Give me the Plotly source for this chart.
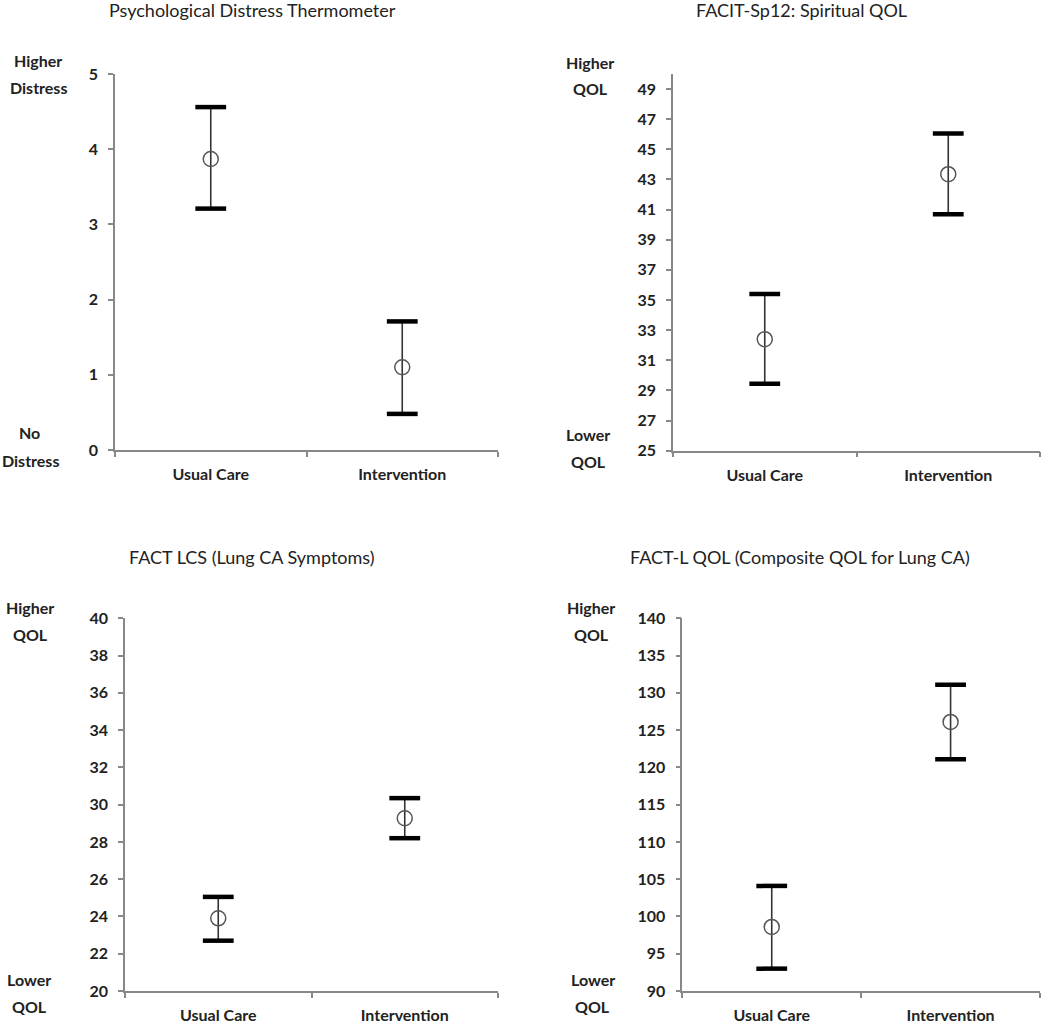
import plotly.graph_objects as go

categories = ["Usual Care", "Intervention"]

distress_mean = [3.87, 1.10]
distress_upper = [4.56, 1.71]
distress_lower = [3.21, 0.48]

spiritual_mean = [32.4, 43.35]
spiritual_upper = [35.4, 46.05]
spiritual_lower = [29.45, 40.7]

lcs_mean = [23.9, 29.27]
lcs_upper = [25.05, 30.35]
lcs_lower = [22.7, 28.2]

factl_mean = [98.6, 126.1]
factl_upper = [104.1, 131.1]
factl_lower = [93.0, 121.1]

titles = ["Psychological Distress Thermometer", "FACIT-Sp12: Spiritual QOL",
          "FACT LCS (Lung CA Symptoms)", "FACT-L QOL (Composite QOL for Lung CA)"]
top_labels = [("Higher", "Distress"), ("Higher", "QOL"), ("Higher", "QOL"), ("Higher", "QOL")]
bottom_labels = [("No", "Distress"), ("Lower", "QOL"), ("Lower", "QOL"), ("Lower", "QOL")]

y_ranges = [[0, 5], [25, 50], [20, 40], [90, 140]]
y_tick0 = [0, 25, 20, 90]
y_dtick = [1, 2, 2, 5]
y_tickmax = [5, 49, 40, 140]

W, H = 1050, 1028
# plot areas in pixels: (left, right, top, bottom)
boxes = [(115, 498, 74, 450), (673, 1040, 74, 450.7),
         (125, 498, 618.3, 991), (682.3, 1040, 618.3, 991)]
title_pos = [(252, 10), (801, 10), (252, 557), (800, 557)]
top_pos = [((38, 60), (38, 87)), ((590, 62), (590, 88)),
           ((30, 607), (30, 634)), ((591, 607), (591, 634))]
bot_pos = [((29, 432), (30, 461)), ((588, 434), (588, 462)),
           ((29, 979), (29, 1006)), ((593, 979), (592, 1006))]

series = [(distress_mean, distress_upper, distress_lower),
          (spiritual_mean, spiritual_upper, spiritual_lower),
          (lcs_mean, lcs_upper, lcs_lower),
          (factl_mean, factl_upper, factl_lower)]

FONT = "Lato"
TXT = "#222"
fig = go.Figure()
annotations = []
layout = dict(width=W, height=H, margin=dict(l=0, r=0, t=0, b=0),
              paper_bgcolor="white", plot_bgcolor="white", showlegend=False,
              font=dict(family=FONT, color=TXT))


def add_text(text, px, py, size, bold):
    annotations.append(dict(text=text, x=px / W, y=1 - py / H, xref="paper",
                            yref="paper", xanchor="center", yanchor="middle",
                            showarrow=False, borderpad=0,
                            font=dict(family=FONT, size=size, color=TXT,
                                      weight="bold" if bold else "normal")))


for i, (mean, up, lo) in enumerate(series):
    xa = "x" if i == 0 else f"x{i+1}"
    ya = "y" if i == 0 else f"y{i+1}"
    plus = [u - m for u, m in zip(up, mean)]
    minus = [m - l for m, l in zip(mean, lo)]
    fig.add_trace(go.Scatter(
        x=categories, y=mean, xaxis=xa, yaxis=ya, mode="markers",
        marker=dict(symbol="circle-open", size=15, color="#555",
                    line=dict(width=1.5, color="#555")),
        error_y=dict(type="data", symmetric=False, array=plus, arrayminus=minus,
                     width=0, thickness=1.6, color="#333")))
    for vals in (up, lo):
        fig.add_trace(go.Scatter(
            x=categories, y=vals, xaxis=xa, yaxis=ya, mode="markers",
            marker=dict(symbol="line-ew", size=22, color="black",
                        line=dict(width=4.5, color="black"))))
    l, r, t, b = boxes[i]
    xkey = "xaxis" if i == 0 else f"xaxis{i+1}"
    ykey = "yaxis" if i == 0 else f"yaxis{i+1}"
    tickvals = list(range(y_tick0[i], y_tickmax[i] + 1, y_dtick[i]))
    layout[xkey] = dict(domain=[l / W, r / W], anchor=ya, type="category",
                        range=[-0.5, 1.5], tickson="boundaries", ticks="outside",
                        ticklen=5, tickwidth=1.5, tickcolor="#888",
                        showline=True, linecolor="#888", linewidth=1.5,
                        showgrid=False, zeroline=False, automargin=False,
                        ticklabelstandoff=9,
                        tickfont=dict(family=FONT, size=16, color=TXT, weight="bold"),
                        fixedrange=True)
    layout[ykey] = dict(domain=[1 - b / H, 1 - t / H], anchor=xa,
                        range=y_ranges[i], tickmode="array", tickvals=tickvals,
                        ticks="outside", ticklen=5, tickwidth=1.5, tickcolor="#888",
                        showline=True, linecolor="#888", linewidth=1.5,
                        showgrid=False, zeroline=False, automargin=False,
                        ticklabelstandoff=7,
                        tickfont=dict(family=FONT, size=16, color=TXT, weight="bold"),
                        fixedrange=True)
    tx, ty = title_pos[i]
    add_text(titles[i], tx, ty, 18, False)
    for (lbl, (px, py)) in zip(top_labels[i], top_pos[i]):
        add_text(lbl, px, py, 16, True)
    for (lbl, (px, py)) in zip(bottom_labels[i], bot_pos[i]):
        add_text(lbl, px, py, 16, True)

layout["annotations"] = annotations
fig.update_layout(**layout)
fig.write_html("out.html", config={"displayModeBar": False},
               post_script="document.body.style.margin='0px';document.body.style.overflow='hidden';")
